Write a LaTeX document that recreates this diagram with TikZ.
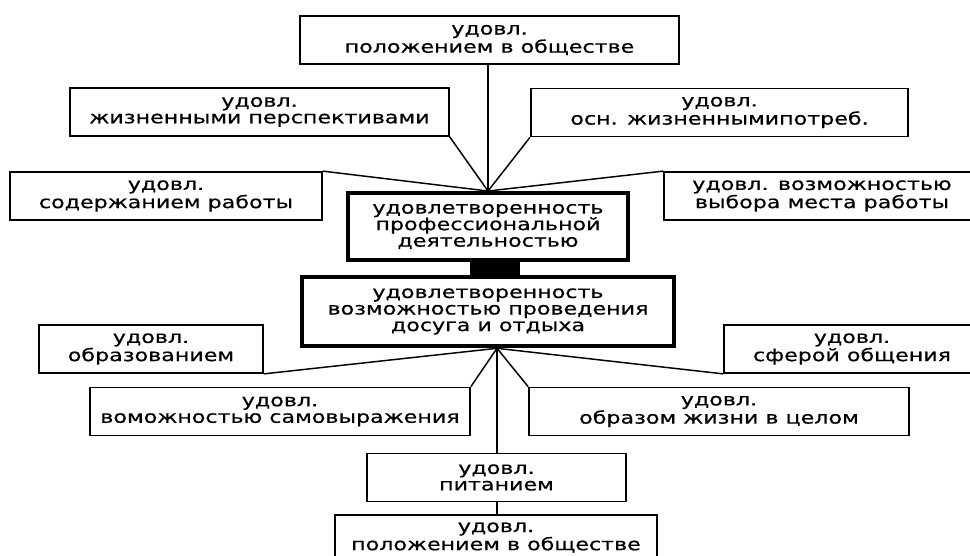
\documentclass[tikz,border=0pt]{standalone}
\usepackage{fontspec}
\setmainfont{DejaVu Sans}[FakeStretch=1.3, FakeBold=0.6]
\usepackage{tikz}

\begin{document}
\begin{tikzpicture}[x=0.75pt, y=-0.75pt,
    every node/.style={font=\fontsize{12.8pt}{12.4pt}\selectfont, align=center, inner sep=0pt},
    leaf/.style={draw, line width=1.3pt, minimum height=36pt},
    core/.style={draw, line width=3.2pt},
    link/.style={line width=1.1pt}]
  \path[use as bounding box, clip] (0,0) rectangle (970,556);
  \node[leaf, minimum width=284pt] (topbox) at (489.5,40) {удовл.\\положением в обществе};
  \node[leaf, minimum width=284pt] (persp) at (259.5,112) {удовл.\\жизненными перспективами};
  \node[leaf, minimum width=283pt] (osn) at (719.5,112.5) {удовл.\\осн. жизненнымипотреб.};
  \node[leaf, minimum width=234pt] (sod) at (166,196) {удовл.\\содержанием работы};
  \node[leaf, minimum width=237pt] (vyb) at (822,196) {удовл. возможностью\\выбора места работы};
  \node[core, minimum width=210pt, minimum height=50pt] (prof) at (488,226.5)
    {удовлетворенность\\профессиональной\\деятельностью};
  \node[core, minimum width=279pt, minimum height=52pt] (dosug) at (488,311.5)
    {удовлетворенность\\возможностью проведения\\досуга и отдыха};
  \node[leaf, minimum width=168pt] (obr) at (151,349) {удовл.\\образованием};
  \node[leaf, minimum width=192pt] (sfer) at (852,349) {удовл.\\сферой общения};
  \node[leaf, minimum width=285pt] (samo) at (280,411.5) {удовл.\\воможностью самовыражения};
  \node[leaf, minimum width=285pt] (obraz) at (719,411.5) {удовл.\\образом жизни в целом};
  \node[leaf, minimum width=194pt] (pit) at (496.5,477.5) {удовл.\\питанием};
  \node[leaf, minimum width=241pt, minimum height=34pt] (pol) at (496,537.5) {удовл.\\положением в обществе};

  \coordinate (hubup) at (prof.north);
  \coordinate (hubdn) at ([xshift=6.75pt]dosug.south);

  \draw[link] (topbox.south -| hubup) -- (hubup);
  \draw[link] (persp.south east) -- (hubup);
  \draw[link] (osn.south west) -- (hubup);
  \draw[link] (sod.north east) -- (hubup);
  \draw[link] (vyb.north west) -- (hubup);
  \draw[line width=37.5pt] ([xshift=5.25pt]prof.south) -- ([xshift=5.25pt]dosug.north);
  \draw[link] (obr.south east) -- (hubdn);
  \draw[link] (samo.north east) -- (hubdn);
  \draw[link] (sfer.south west) -- (hubdn);
  \draw[link] (obraz.north west) -- (hubdn);
  \draw[link] (hubdn) -- (hubdn |- pit.north);
  \draw[link] (pit.south -| hubdn) -- (pol.north -| hubdn);
\end{tikzpicture}
\end{document}
